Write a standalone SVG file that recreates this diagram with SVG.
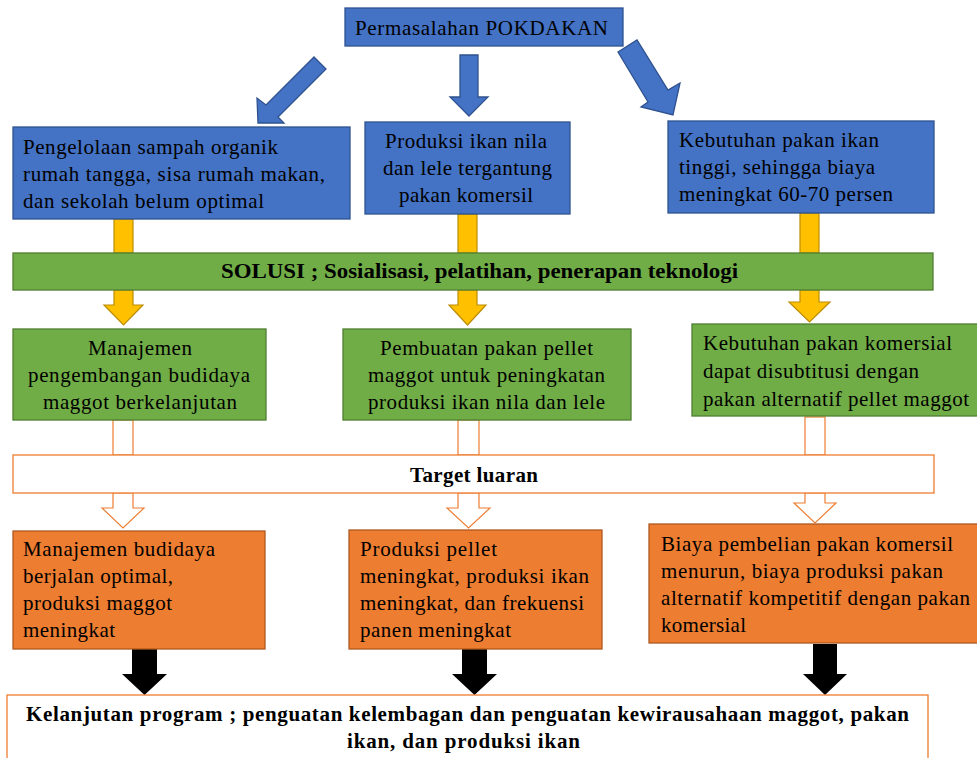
<svg xmlns="http://www.w3.org/2000/svg" width="977" height="758" viewBox="0 0 977 758" font-family="'Liberation Serif', 'DejaVu Serif', serif">
<style>
  text { font-family: 'Liberation Serif', 'DejaVu Serif', 'Times New Roman', serif; font-size: 21px; fill: #000; }
  .b { font-weight: bold; }
  .c { text-anchor: middle; }
  .blue { fill: #4472C4; stroke: #2F528F; stroke-width: 1.3; }
  .green { fill: #70AD47; stroke: #507E32; stroke-width: 1.3; }
  .orange { fill: #ED7D31; stroke: #AE5A21; stroke-width: 1.3; }
  .outline { fill: #FFFFFF; stroke: #ED7D31; stroke-width: 1.3; }
  .yellow { fill: #FFC000; stroke: #BC8C00; stroke-width: 1.2; }
  .hollow { fill: #FFFFFF; stroke: #ED7D31; stroke-width: 1.2; }
  .black { fill: #000000; stroke: none; }
</style>
<rect width="977" height="758" fill="#FFFFFF"/>

<g id="connectors">
  <polygon class="blue" points="314,57 326,69 278,117 284,123 258,123 257,98 266,105"/>
  <polygon class="blue" points="460,55 478,55 478,97 488,97 469,116 450,97 460,97"/>
  <polygon class="blue" points="618,52 637,40 668,90 680,83 673,115 641,107 648,102"/>
  <rect class="yellow" x="114" y="219" width="19" height="34"/>
  <rect class="yellow" x="458" y="214" width="19" height="39"/>
  <rect class="yellow" x="800" y="213" width="19" height="40"/>
  <polygon class="yellow" points="114,290 133,290 133,305 143,305 123.5,325 104,305 114,305"/>
  <polygon class="yellow" points="458,290 477,290 477,305 486,305 467.5,325 449,305 458,305"/>
  <polygon class="yellow" points="800,290 819,290 819,302 830,302 809.5,322 789,302 800,302"/>
  <rect class="hollow" x="113" y="420" width="20" height="35"/>
  <rect class="hollow" x="458" y="420" width="21" height="35"/>
  <rect class="hollow" x="805" y="417" width="20" height="38"/>
  <polygon class="hollow" points="113,493 133,493 133,508 144,508 123,528 102,508 113,508"/>
  <polygon class="hollow" points="458,493 479,493 479,508 490,508 468.5,528 447,508 458,508"/>
  <polygon class="hollow" points="805,493 825,493 825,503 836,503 815,523 794,503 805,503"/>
  <polygon class="black" points="132,649 157,649 157,674 167,674 144.5,695 122,674 132,674"/>
  <polygon class="black" points="462,649 487,649 487,674 497,674 474.5,695 452,674 462,674"/>
  <polygon class="black" points="813,644 837,644 837,674 847,674 825,695 803,674 813,674"/>
</g>

<g id="node-pokdakan">
  <rect class="blue" x="345" y="8" width="278" height="38"/>
  <text x="481.5" y="35" class="c" textLength="253" lengthAdjust="spacing">Permasalahan  POKDAKAN</text>
</g>

<g id="node-sampah">
  <rect class="blue" x="13" y="127" width="337" height="92"/>
  <text x="23" y="154" textLength="255" lengthAdjust="spacing">Pengelolaan sampah organik</text>
  <text x="23" y="181" textLength="302" lengthAdjust="spacing">rumah tangga, sisa rumah makan,</text>
  <text x="23" y="208" textLength="241" lengthAdjust="spacing">dan sekolah belum optimal</text>
</g>

<g id="node-produksi">
  <rect class="blue" x="365" y="122" width="205" height="92"/>
  <text x="466" y="148" class="c" textLength="162" lengthAdjust="spacing">Produksi ikan nila</text>
  <text x="467.5" y="175" class="c" textLength="169" lengthAdjust="spacing">dan lele tergantung</text>
  <text x="466" y="202" class="c" textLength="134" lengthAdjust="spacing">pakan komersil</text>
</g>

<g id="node-kebutuhan">
  <rect class="blue" x="668" y="121" width="266" height="92"/>
  <text x="679" y="147" textLength="200" lengthAdjust="spacing">Kebutuhan pakan ikan</text>
  <text x="679" y="174" textLength="196" lengthAdjust="spacing">tinggi, sehingga biaya</text>
  <text x="679" y="201" textLength="214" lengthAdjust="spacing">meningkat 60-70 persen</text>
</g>

<g id="node-solusi">
  <rect class="green" x="13" y="253" width="920" height="37"/>
  <text x="479.5" y="278" class="b c" textLength="517" lengthAdjust="spacingAndGlyphs">SOLUSI ; Sosialisasi, pelatihan, penerapan teknologi</text>
</g>

<g id="node-manajemen">
  <rect class="green" x="13" y="329" width="253" height="91"/>
  <text x="140" y="355" class="c" textLength="104" lengthAdjust="spacing">Manajemen</text>
  <text x="139" y="382" class="c" textLength="222" lengthAdjust="spacing">pengembangan budidaya</text>
  <text x="140" y="409" class="c" textLength="194" lengthAdjust="spacing">maggot berkelanjutan</text>
</g>

<g id="node-pembuatan">
  <rect class="green" x="343" y="329" width="288" height="91"/>
  <text x="486.5" y="355" class="c" textLength="213" lengthAdjust="spacing">Pembuatan pakan pellet</text>
  <text x="486.5" y="382" class="c" textLength="237" lengthAdjust="spacing">maggot untuk peningkatan</text>
  <text x="486.5" y="409" class="c" textLength="237" lengthAdjust="spacing">produksi ikan nila dan lele</text>
</g>

<g id="node-substitusi">
  <rect class="green" x="692" y="324" width="290" height="92"/>
  <text x="703" y="350" textLength="249" lengthAdjust="spacing">Kebutuhan pakan komersial</text>
  <text x="703" y="378" textLength="216" lengthAdjust="spacing">dapat disubtitusi  dengan</text>
  <text x="703" y="406" textLength="266" lengthAdjust="spacing">pakan alternatif pellet maggot</text>
</g>

<g id="node-target">
  <rect class="outline" x="13" y="455" width="921" height="38"/>
  <text x="474" y="482" class="b c" textLength="128" lengthAdjust="spacing">Target luaran</text>
</g>

<g id="node-hasil-manajemen">
  <rect class="orange" x="13" y="531" width="252" height="118"/>
  <text x="23" y="556" textLength="192" lengthAdjust="spacing">Manajemen budidaya</text>
  <text x="23" y="583" textLength="150" lengthAdjust="spacing">berjalan optimal,</text>
  <text x="23" y="610" textLength="149" lengthAdjust="spacing">produksi maggot</text>
  <text x="23" y="637" textLength="92" lengthAdjust="spacing">meningkat</text>
</g>

<g id="node-hasil-pellet">
  <rect class="orange" x="349" y="530" width="253" height="119"/>
  <text x="360" y="556" textLength="137" lengthAdjust="spacing">Produksi pellet</text>
  <text x="360" y="583" textLength="229" lengthAdjust="spacing">meningkat, produksi ikan</text>
  <text x="360" y="610" textLength="224" lengthAdjust="spacing">meningkat, dan frekuensi</text>
  <text x="360" y="637" textLength="151" lengthAdjust="spacing">panen meningkat</text>
</g>

<g id="node-hasil-biaya">
  <rect class="orange" x="649" y="524" width="333" height="119"/>
  <text x="661" y="551" textLength="292" lengthAdjust="spacing">Biaya pembelian pakan komersil</text>
  <text x="661" y="578" textLength="282" lengthAdjust="spacing">menurun, biaya produksi pakan</text>
  <text x="661" y="605" textLength="309" lengthAdjust="spacing">alternatif kompetitif dengan pakan</text>
  <text x="661" y="632" textLength="85" lengthAdjust="spacing">komersial</text>
</g>

<g id="node-kelanjutan">
  <rect class="outline" x="7" y="695" width="921" height="80"/>
  <text x="467.5" y="721" class="b c" textLength="883" lengthAdjust="spacing">Kelanjutan program ; penguatan kelembagan dan penguatan kewirausahaan maggot, pakan</text>
  <text x="463.5" y="748" class="b c" textLength="233" lengthAdjust="spacing">ikan, dan produksi ikan</text>
</g>
</svg>
